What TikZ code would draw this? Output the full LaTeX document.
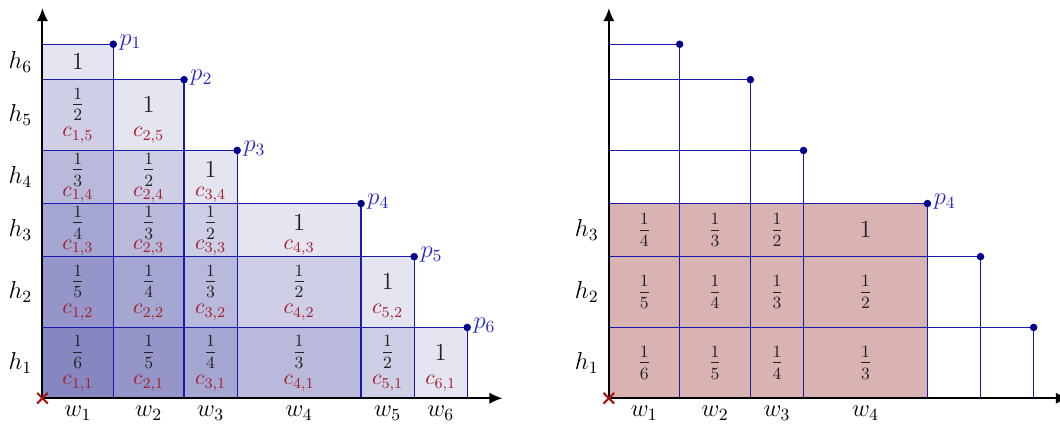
\RequirePackage{fix-cm}
\documentclass[tikz,border=0pt]{standalone}
\usetikzlibrary{arrows.meta}
\definecolor{gridblue}{rgb}{0.1,0.1,0.68}
\definecolor{dotblue}{rgb}{0,0,0.55}
\definecolor{shadeblue}{rgb}{0,0,0.49}
\definecolor{labblue}{rgb}{0.16,0.16,0.75}
\definecolor{cred}{rgb}{0.63,0.12,0.16}
\definecolor{xred}{rgb}{0.65,0.08,0.08}
\definecolor{pinkbase}{rgb}{0.5,0,0}
\definecolor{txt}{rgb}{0.13,0.13,0.13}
\newcommand\onefrac[1]{$\frac{\raisebox{1pt}{$\scriptstyle 1$}}{\raisebox{-1pt}{$\scriptstyle #1$}}$}
\begin{document}
\begin{tikzpicture}[x=0.33cm,y=0.33cm,
  every node/.style={font=\fontsize{13}{15}\selectfont},
  gridline/.style={gridblue, line width=0.65pt},
  axisline/.style={line width=1.05pt, -{Latex[length=7pt,width=6pt]}},
  ptdot/.style={circle, fill=dotblue, inner sep=0pt, minimum size=4pt},
  plab/.style={labblue, anchor=west, inner sep=1pt, yshift=1pt},
  clab/.style={cred, inner sep=0pt, font=\fontsize{11.5}{13}\selectfont},
  vlab/.style={txt, inner sep=0pt},
  axlab/.style={inner sep=0pt},
  blueshade/.style={fill=shadeblue, fill opacity=0.1},
  pinkshade/.style={fill=pinkbase, fill opacity=0.3},
  cross/.style={xred, line width=1.1pt}]
\useasboundingbox (-2.40,-1.62) rectangle (57.49,22.50);

% ---------------- left plot ----------------
\coordinate (O) at (0,0);
\foreach \x/\y in {4/20,8/18,11/14,18/11,21/8,24/4}
  \fill[blueshade] (0,0) rectangle (\x,\y);
\foreach \i/\x/\y in {1/4/20,2/8/18,3/11/14,4/18/11,5/21/8,6/24/4}{
  \coordinate (p\i) at (\x,\y);
  \draw[gridline] (p\i -| O) -- (p\i) -- (p\i |- O);
}
\foreach \i/\cx in {1/2,2/6,3/9.5,4/14.5,5/19.5,6/22.5}{
  \foreach \j/\cy/\fo/\co in {1/2/0.6/-1.15,2/6/0.6/-1.15,3/9.5/0.42/-1.0,4/12.5/0.42/-1.0,5/16/0.6/-1.15,6/19/0/0}{
    \pgfmathtruncatemacro\n{8-\i-\j}
    \ifnum\n>0
      \ifnum\i\j=16
        \node[vlab] (f\i\j) at (\cx,\cy) {$1$};
      \else
        \ifnum\n=1
          \node[vlab] (f\i\j) at (\cx,\cy+\fo) {$1$};
        \else
          \node[vlab] (f\i\j) at (\cx,\cy+\fo) {\onefrac{\n}};
        \fi
        \node[clab] (c\i\j) at (\cx,\cy+\co) {$c_{\i,\j}$};
      \fi
    \fi
  }
}
\coordinate (xe) at (26,0);
\coordinate (ye) at (0,22.05);
\draw[axisline] (O) -- (xe);
\draw[axisline] (O) -- (ye);
\foreach \i in {1,...,6}{
  \node[ptdot] (pd\i) at (p\i) {};
  \node[plab] (pl\i) at (pd\i.east) {$p_{\i}$};
}
\foreach \j/\cy in {1/2,2/6,3/9.5,4/12.5,5/16,6/19}
  \node[axlab] (h\j) at (-1.25,\cy) {$h_{\j}$};
\foreach \i/\cx in {1/2,2/6,3/9.5,4/14.5,5/19.5,6/22.5}
  \node[axlab] (w\i) at (\cx,-0.85) {$w_{\i}$};
\draw[cross] (-0.3,-0.3) -- (0.3,0.3) (-0.3,0.3) -- (0.3,-0.3);

% ---------------- right plot ----------------
\begin{scope}[xshift=10.56cm]
\coordinate (R) at (0,0);
\fill[pinkshade] (0,0) rectangle (18,11);
\foreach \i/\x/\y in {1/4/20,2/8/18,3/11/14,4/18/11,5/21/8,6/24/4}{
  \coordinate (q\i) at (\x,\y);
  \draw[gridline] (q\i -| R) -- (q\i) -- (q\i |- R);
}
\foreach \i/\cx in {1/2,2/6,3/9.5,4/14.5}{
  \foreach \j/\cy in {1/2,2/6,3/9.5}{
    \pgfmathtruncatemacro\n{8-\i-\j}
    \ifnum\n=1
      \node[vlab] (g\i\j) at (\cx,\cy) {$1$};
    \else
      \node[vlab] (g\i\j) at (\cx,\cy) {\onefrac{\n}};
    \fi
  }
}
\coordinate (rxe) at (26,0);
\coordinate (rye) at (0,22.05);
\draw[axisline] (R) -- (rxe);
\draw[axisline] (R) -- (rye);
\foreach \i in {1,...,6}
  \node[ptdot] (qd\i) at (q\i) {};
\node[plab] (ql4) at (qd4.east) {$p_{4}$};
\foreach \j/\cy in {1/2,2/6,3/9.5}
  \node[axlab] (rh\j) at (-1.25,\cy) {$h_{\j}$};
\foreach \i/\cx in {1/2,2/6,3/9.5,4/14.5}
  \node[axlab] (rw\i) at (\cx,-0.85) {$w_{\i}$};
\draw[cross] (-0.3,-0.3) -- (0.3,0.3) (-0.3,0.3) -- (0.3,-0.3);
\end{scope}
\end{tikzpicture}
\end{document}
